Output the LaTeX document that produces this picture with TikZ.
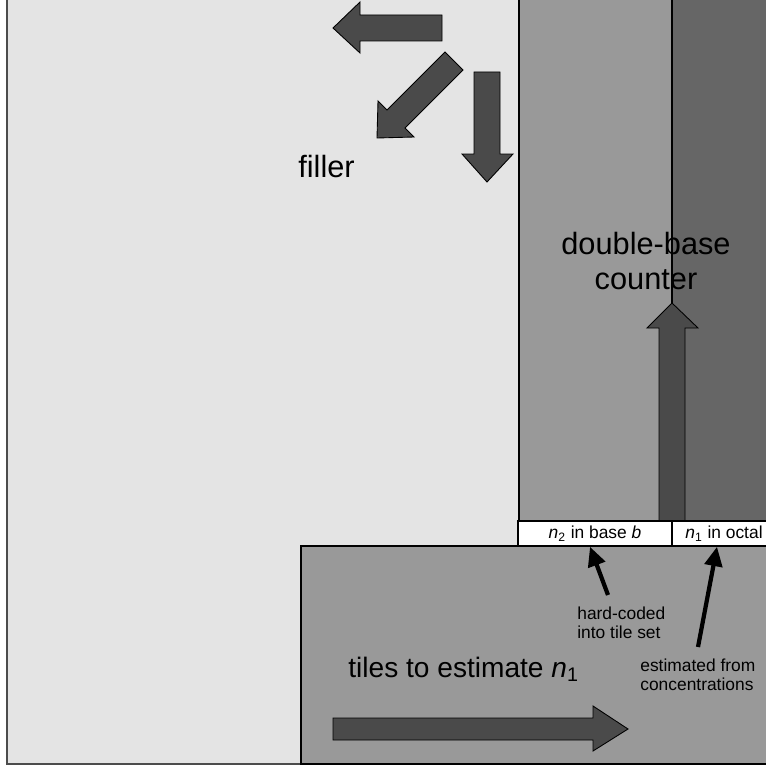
\documentclass[tikz,border=0pt]{standalone}
\usepackage{fontspec}
\setmainfont{Liberation Sans}
\usepackage{tikz}
\usetikzlibrary{calc}
\usetikzlibrary{arrows.meta}

\definecolor{bggray}{HTML}{E4E4E4}
\definecolor{midgray}{HTML}{999999}
\definecolor{stripgray}{HTML}{666666}
\definecolor{arrowgray}{HTML}{4A4A4A}

\begin{document}
\begin{tikzpicture}[x=0.02cm,y=-0.02cm]
	\tikzstyle{every node}=[inner sep=0pt]
	\tikzset{
		region/.style={draw=black, line width=0.6pt},
		fatarrow/.style={draw=black, line width=0.5pt, fill=arrowgray},
		valbox/.style={draw=black, line width=0.9pt, fill=white, minimum height=0.5cm, font=\fontsize{9.9}{10.8}\selectfont},
		bigtext/.style={font=\fontsize{17.5}{20}\selectfont, align=center},
		smalltext/.style={font=\fontsize{9.9}{10.8}\selectfont, align=left},
		pointer/.style={line width=2.4pt, -{Triangle[length=11pt,width=10pt]}}
	}
	
	\useasboundingbox (0,0) rectangle (766,767);
	\clip (0,0) rectangle (766,767);
	
	% background (filler area)
	\fill [bggray] (7,-10) rectangle (790,764);
	\draw [draw=black!70, line width=0.9pt] (7,-10) -- (7,764) -- (790,764);
	
	% counter column
	\draw [region, fill=midgray] (519,-10) rectangle (790,521);
	\draw [region, fill=stripgray] (672,-10) rectangle (790,521);
	
	% estimator block
	\draw [region, fill=midgray] (301,546) rectangle (790,764);
	
	% growth arrows
	\draw [fatarrow] (442,15) -- (360,15) -- (360,2) -- (333,28) -- (360,53) -- (360,41) -- (442,41) -- cycle;
	\draw [fatarrow] (445,52) -- (387,110) -- (378,101) -- (377,138) -- (414,137) -- (405,128) -- (463,70) -- cycle;
	\draw [fatarrow] (474,72) -- (474,154) -- (462,154) -- (487,182) -- (513,154) -- (500,154) -- (500,72) -- cycle;
	\draw [fatarrow] (659,521) -- (659,328) -- (647,328) -- (672,303) -- (698,328) -- (685,328) -- (685,521) -- cycle;
	\draw [fatarrow] (333,718) -- (593,718) -- (593,706) -- (628,729) -- (593,751) -- (593,740) -- (333,740) -- cycle;
	
	% value boxes
	\node [valbox, minimum width=3.08cm] (nbase) at (595,533.5) {\textit{n}\textsubscript{2} in base \textit{b}};
	\node [valbox, minimum width=2.08cm] (octal) at (724,533.5) {\textit{n}\textsubscript{1} in octal};
	
	% labels
	\node [bigtext, anchor=base west] (filler) at (298,177) {filler};
	\node [bigtext, anchor=north] (counter) at (646,232) {double-base\\counter};
	\node [bigtext, font=\fontsize{16}{19}\selectfont, anchor=base west] (tiles) at (348,677) {tiles to estimate \textit{n}\textsubscript{1}};
	\node [smalltext, anchor=north west] (hard) at (577,607) {hard-coded\\into tile set};
	\node [smalltext, anchor=north west] (est) at (640,659) {estimated from\\concentrations};
	
	\draw [pointer] ($(hard.north west)+(31,-12)$) -- ($(nbase.south)+(-5,0)$);
	\draw [pointer] ($(est.north west)+(58,-12)$) -- ($(octal.south)+(-7,0)$);
	
\end{tikzpicture}
\end{document}
